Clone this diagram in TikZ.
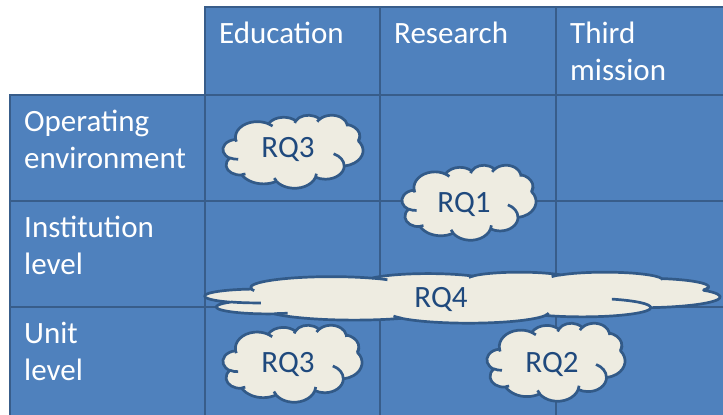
\documentclass[tikz,border=0pt]{standalone}
\usepackage{fontspec}
\setmainfont{Carlito}

\definecolor{cellfill}{HTML}{4F81BD}
\definecolor{cellline}{HTML}{385D8A}
\definecolor{cloudfill}{HTML}{EEECE1}
\definecolor{cloudline}{HTML}{325A88}
\definecolor{cloudtext}{HTML}{1F497D}

\newcommand{\bigfont}{\fontsize{31}{37}\selectfont}
\newcommand{\twolines}[2]{\begin{tabular}[t]{@{}l@{}}#1\\#2\end{tabular}}

\tikzset{
  cell/.style={rectangle, draw=cellline, fill=cellfill, line width=2.6pt,
               anchor=north west, inner sep=0pt, outer sep=0pt},
  celltext/.style={anchor=base west, inner sep=0pt, text=white, font=\bigfont},
  cloudedge/.style={draw=cloudline, line width=2.7pt, line join=round},
  rqtext/.style={anchor=base, inner sep=0pt, text=cloudtext, font=\bigfont},
}

% Cloud outline in a 43.2 x 43.2 box, scaled to #3 x #4 at top-left (#1,#2)
\newcommand{\rqcloud}[4]{%
  \begin{scope}[shift={(#1,#2)}, xscale=#3/43.2, yscale=#4/43.2]
    \filldraw[fill=cloudfill, cloudedge] (3.900,14.370)
      arc[start angle=-187.745, end angle=-59.635, x radius=6.753, y radius=9.190]
      arc[start angle=-152.06, end angle=-45.44, x radius=5.333, y radius=7.267]
      arc[start angle=-153.50, end angle=-37.33, x radius=4.365, y radius=5.945]
      arc[start angle=-139.70, end angle=-10.21, x radius=4.857, y radius=6.595]
      arc[start angle=-74.77, end angle=23.21, x radius=5.333, y radius=7.273]
      arc[start angle=-37.51, end angle=81.86, x radius=6.775, y radius=9.220]
      arc[start angle=0.46, end angle=121.97, x radius=5.785, y radius=7.867]
      arc[start angle=16.84, end angle=146.24, x radius=6.752, y radius=9.215]
      arc[start angle=59.00, end angle=150.20, x radius=7.720, y radius=10.543]
      arc[start angle=83.31, end angle=223.10, x radius=4.360, y radius=5.918]
      arc[start angle=120.36, end angle=264.11, x radius=4.345, y radius=5.945]
      -- cycle;
    % inner puff creases
    \draw[cloudedge]
      (4.693,26.177) arc[start angle=85.55, end angle=120.36, x radius=4.345, y radius=5.945]
      (6.928,34.899) arc[start angle=68.23, end angle=83.31, x radius=4.360, y radius=5.918]
      (16.478,39.090) arc[start angle=146.24, end angle=158.47, x radius=6.752, y radius=9.215]
      (28.827,34.751) arc[start angle=4.74, end angle=16.84, x radius=6.752, y radius=9.215]
      (34.129,22.954) arc[start angle=-64.03, end angle=0.46, x radius=5.785, y radius=7.867]
      (41.798,15.354) arc[start angle=23.22, end angle=1.89, x radius=5.333, y radius=7.273]
      (38.324,5.426) arc[start angle=-10.21, end angle=0.82, x radius=4.857, y radius=6.595]
      (29.078,3.952) arc[start angle=-156.29, end angle=-139.70, x radius=4.857, y radius=6.595]
      (22.141,4.720) arc[start angle=-167.73, end angle=-153.50, x radius=4.365, y radius=5.945]
      (14.000,5.192) arc[start angle=-59.64, end angle=-45.72, x radius=6.753, y radius=9.190]
      (4.127,15.789) arc[start angle=162.43, end angle=172.80, x radius=6.753, y radius=9.190];
  \end{scope}%
}

\begin{document}
\begin{tikzpicture}[x=1pt, y=1pt, yscale=-1]
  \useasboundingbox (0,0) rectangle (723,415);
  \clip (0,0) rectangle (723,415);

  % column headers
  \node[cell, minimum width=175pt, minimum height=88pt] (hEdu) at (205,7) {};
  \node[cell, minimum width=176pt, minimum height=88pt] (hRes) at (380,7) {};
  \node[cell, minimum width=190pt, minimum height=88pt] (hThi) at (556,7) {};

  % row headers
  \node[cell, minimum width=195pt, minimum height=106pt] (rOpe) at (10,95) {};
  \node[cell, minimum width=195pt, minimum height=106pt] (rIns) at (10,201) {};
  \node[cell, minimum width=195pt, minimum height=120pt] (rUni) at (10,307) {};

  % body cells
  \foreach \r/\y/\h in {1/95/106, 2/201/106, 3/307/120} {
    \node[cell, minimum width=175pt, minimum height=\h pt] (c\r a) at (205,\y) {};
    \node[cell, minimum width=176pt, minimum height=\h pt] (c\r b) at (380,\y) {};
    \node[cell, minimum width=190pt, minimum height=\h pt] (c\r c) at (556,\y) {};
  }

  % labels
  \node[celltext] (tEdu) at (219,43) {Education};
  \node[celltext] (tRes) at (394,43) {Research};
  \node[celltext] (tThi) at (570,43) {\twolines{Third}{mission}};
  \node[celltext] (tOpe) at (24,131) {\twolines{Operating}{environment}};
  \node[celltext] (tIns) at (24,237) {\twolines{Institution}{level}};
  \node[celltext] (tUni) at (24,343) {\twolines{Unit}{level}};

  % research question clouds
  \rqcloud{223}{115}{140}{73}
  \node[rqtext] (rq3a) at (288,157) {RQ3};
  \rqcloud{402}{165}{134}{75}
  \node[rqtext] (rq1) at (464,212) {RQ1};
  \rqcloud{205}{272}{515}{51}
  \node[rqtext] (rq4) at (441,307) {RQ4};
  \rqcloud{223}{325}{139}{77}
  \node[rqtext] (rq3b) at (288,372) {RQ3};
  \rqcloud{487}{323}{138}{78}
  \node[rqtext] (rq2) at (552,372) {RQ2};
\end{tikzpicture}
\end{document}
